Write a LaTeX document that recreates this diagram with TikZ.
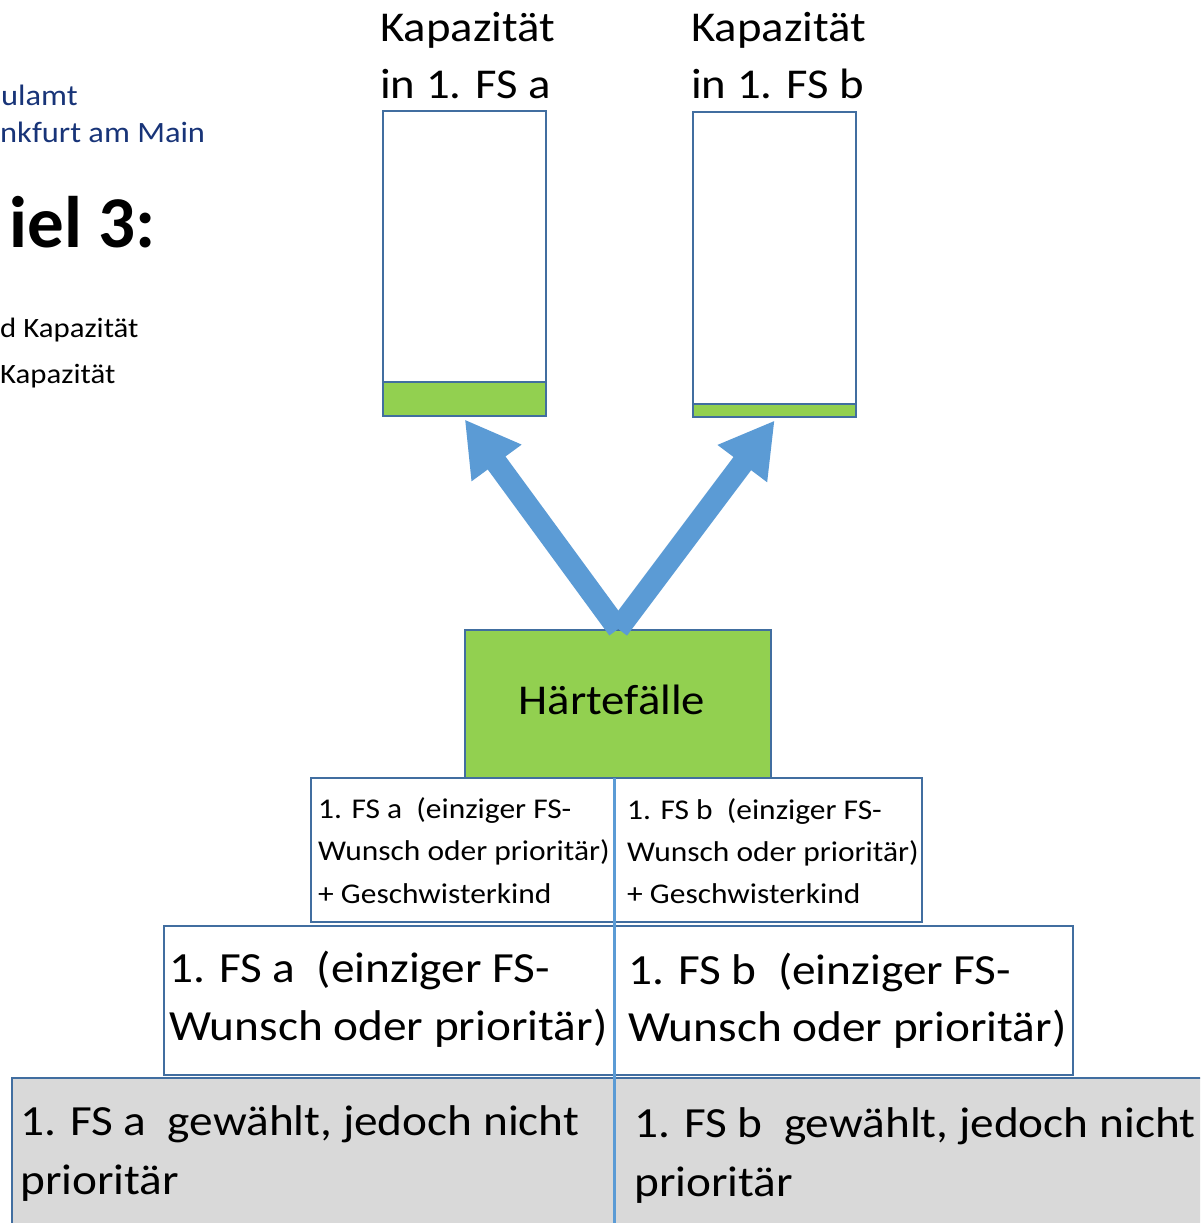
\documentclass[tikz,border=0pt]{standalone}
\usepackage{fontspec}
\setmainfont{Carlito}[FakeStretch=1.1]
\newfontfamily\titlefont{Carlito}
\usetikzlibrary{arrows.meta}
\definecolor{bdr}{RGB}{65,110,160}
\definecolor{grn}{RGB}{146,208,80}
\definecolor{arr}{RGB}{91,155,213}
\definecolor{gry}{RGB}{217,217,217}
\definecolor{navy}{RGB}{24,52,120}
\newcommand\fsz[2]{\fontsize{#1}{#2}\selectfont}
\tikzset{
  box/.style={draw=bdr, line width=2.4pt, inner sep=0pt, anchor=north west},
  lbl/.style={anchor=base west, inner sep=0pt, text=black},
  lblr/.style={anchor=base east, inner sep=0pt},
  bigarrow/.style={draw=arr, line width=22pt, line cap=butt,
    -{Triangle[length=54pt,width=58pt]}},
}
\begin{document}
\begin{tikzpicture}[x=1pt,y=-1pt]
\useasboundingbox (0,0) rectangle (1200,1223);
\clip (0,0) rectangle (1200,1223);
\fill[white] (0,0) rectangle (1200,1223);

% header fragments at left
\node[lbl, text=navy, font=\fsz{29.5}{38}] (h1) at (1,105) {ulamt};
\node[lbl, text=navy, font=\fsz{29.5}{38}] (h2) at (0,142) {nkfurt am Main};
\node[lblr, font=\titlefont\bfseries\fsz{73}{90}] (title) at (156,247) {iel 3:};
\node[lbl, font=\fsz{28}{40}] (l1) at (0,337) {d Kapazität};
\node[lbl, font=\fsz{28}{40}] (l2) at (0,383) {Kapazität};

% capacity labels
\node[lbl, font=\fsz{42.5}{56}] (ta1) at (380,42) {Kapazität};
\node[lbl, font=\fsz{42.5}{56}] (ta2) at (380,98) {in 1. FS a};
\node[lbl, font=\fsz{42.5}{56}] (tb1) at (691,42) {Kapazität};
\node[lbl, font=\fsz{42.5}{56}] (tb2) at (691,98) {in 1. FS b};

% capacity boxes
\node[box, minimum width=163pt, minimum height=305pt] (capA) at (382,110) {};
\node[box, fill=grn, minimum width=163pt, minimum height=34pt] (fillA) at (382,381) {};
\node[box, minimum width=163pt, minimum height=305pt] (capB) at (692,111) {};
\node[box, fill=grn, minimum width=163pt, minimum height=13pt] (fillB) at (692,403) {};

% pyramid
\node[box, fill=grn, minimum width=306pt, minimum height=148pt] (hf) at (464,629) {};
\node[inner sep=0pt, font=\fsz{42.5}{52}, anchor=base] (hft) at (612,714) {Härtefälle};

\node[box, minimum width=304pt, minimum height=144pt] (r2a) at (310,777) {};
\node[box, minimum width=307pt, minimum height=144pt] (r2b) at (614,777) {};
\node[box, minimum width=451pt, minimum height=149pt] (r3a) at (163,925) {};
\node[box, minimum width=458pt, minimum height=149pt] (r3b) at (614,925) {};
\node[box, fill=gry, minimum width=603pt, minimum height=170pt] (r4a) at (11,1077) {};
\node[box, fill=gry, minimum width=620pt, minimum height=170pt] (r4b) at (614,1077) {};

% row 2 texts
\node[lbl, font=\fsz{28.6}{42}] (r2a1) at (318,818) {1. FS a\ \ (einziger FS-};
\node[lbl, font=\fsz{28.6}{42}] (r2a2) at (318,860) {Wunsch oder prioritär)};
\node[lbl, font=\fsz{28.6}{42}] (r2a3) at (318,903) {+ Geschwisterkind};
\node[lbl, font=\fsz{28.6}{42}] (r2b1) at (627,819) {1. FS b\ \ (einziger FS-};
\node[lbl, font=\fsz{28.6}{42}] (r2b2) at (627,861) {Wunsch oder prioritär)};
\node[lbl, font=\fsz{28.6}{42}] (r2b3) at (627,903) {+ Geschwisterkind};

% row 3 texts
\node[lbl, font=\fsz{43}{58}] (r3a1) at (169,982) {1. FS a\ \ (einziger FS-};
\node[lbl, font=\fsz{43}{58}] (r3a2) at (169,1040) {Wunsch oder prioritär)};
\node[lbl, font=\fsz{43}{58}] (r3b1) at (628,984) {1. FS b\ \ (einziger FS-};
\node[lbl, font=\fsz{43}{58}] (r3b2) at (628,1041) {Wunsch oder prioritär)};

% row 4 texts
\node[lbl, font=\fsz{43}{60}] (r4a1) at (20,1135) {1. FS a\ \ gewählt, jedoch nicht};
\node[lbl, font=\fsz{43}{60}] (r4a2) at (20,1194) {prioritär};
\node[lbl, font=\fsz{43}{60}] (r4b1) at (634,1137) {1. FS b\ \ gewählt, jedoch nicht};
\node[lbl, font=\fsz{43}{60}] (r4b2) at (634,1196) {prioritär};

% blue separator
\coordinate (sepTop) at (614,778);
\coordinate (sepBot) at (614,1223);
\draw[arr, line width=3pt] (sepTop) -- (sepBot);

% arrows
\draw[bigarrow] (hf.north) -- ([yshift=-2pt]fillA.south);
\draw[bigarrow] (hf.north) -- ([yshift=-2pt]fillB.south);
\end{tikzpicture}
\end{document}
